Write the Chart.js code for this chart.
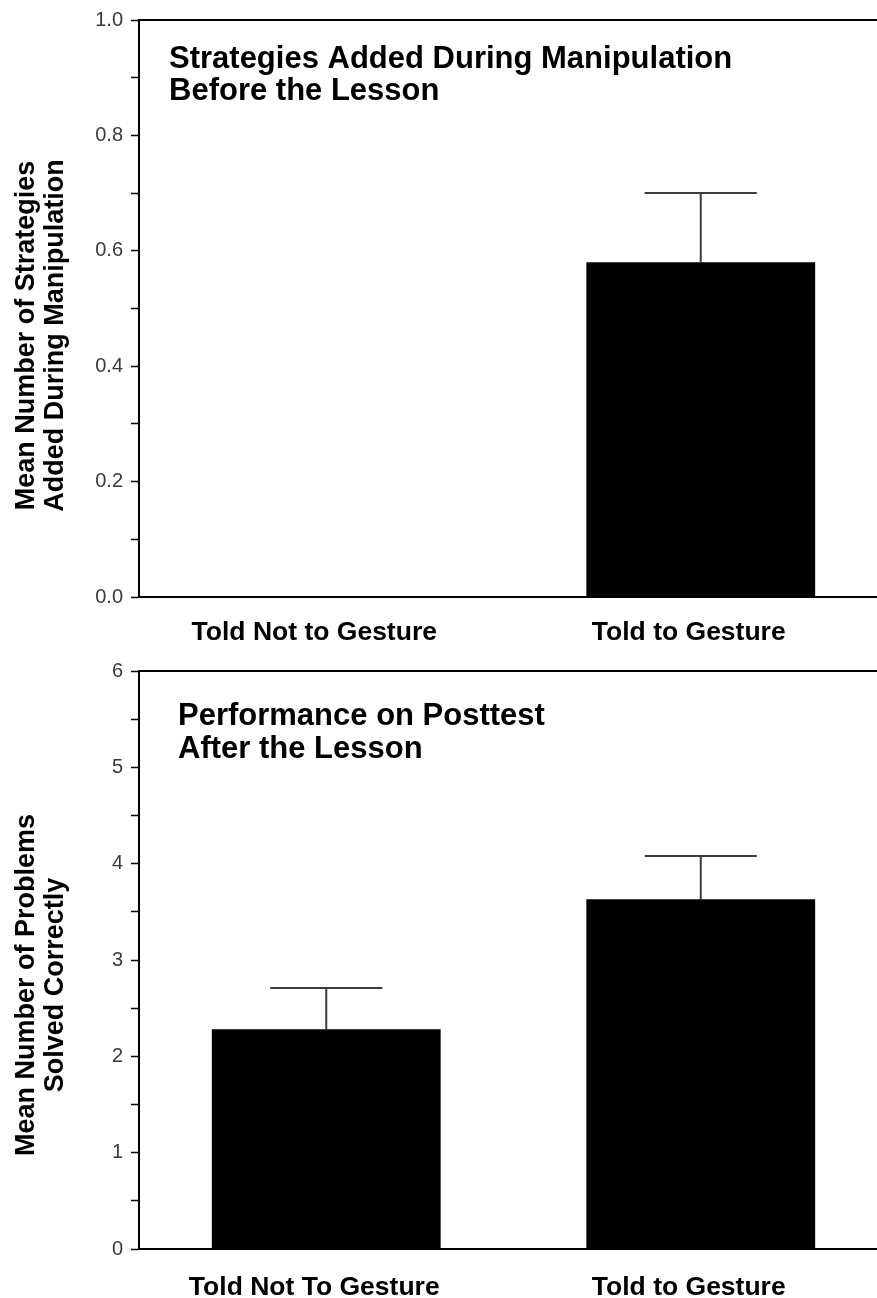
<!DOCTYPE html>
<html>
<head>
<meta charset="utf-8">
<script src="https://cdn.jsdelivr.net/npm/chart.js@4"></script>
<style>
  body { margin: 0; background: #fff; overflow: hidden; }
  .panel { width: 877px; height: 649px; overflow: hidden; }
</style>
</head>
<body>
<div class="panel"><canvas id="topPlot" width="890" height="649"></canvas></div>
<div class="panel"><canvas id="bottomPlot" width="890" height="649"></canvas></div>
<script>
// top panel: strategies added during manipulation
var topCategories = ['Told Not to Gesture', 'Told to Gesture'];
var topMeans = [0, 0.58];
var topErrors = [0, 0.12];
var topTitle = ['Strategies Added During Manipulation', 'Before the Lesson'];
var topAxisTitle = ['Mean Number of Strategies', 'Added During Manipulation'];

// bottom panel: posttest performance
var bottomCategories = ['Told Not To Gesture', 'Told to Gesture'];
var bottomMeans = [2.28, 3.63];
var bottomErrors = [0.43, 0.45];
var bottomTitle = ['Performance on Posttest', 'After the Lesson'];
var bottomAxisTitle = ['Mean Number of Problems', 'Solved Correctly'];

var FONT = "'Liberation Sans', Arial, Helvetica, sans-serif";

// error bars, top frame line, panel heading and rotated y title
var extras = {
    id: 'extras',
    afterDatasetsDraw: function (chart) {
        var opts = chart.options.plugins.extras;
        var ctx = chart.ctx;
        var area = chart.chartArea;
        var ys = chart.scales.y;
        var meta = chart.getDatasetMeta(0);
        var values = chart.data.datasets[0].data;

        ctx.save();
        ctx.strokeStyle = '#3c3c3c';
        ctx.lineWidth = 2;
        meta.data.forEach(function (bar, i) {
            var err = opts.errors[i];
            if (!err) return;
            var yTop = ys.getPixelForValue(values[i] + err);
            var half = bar.width * 0.245;
            ctx.beginPath();
            ctx.moveTo(bar.x, bar.y);
            ctx.lineTo(bar.x, yTop);
            ctx.moveTo(bar.x - half, yTop);
            ctx.lineTo(bar.x + half, yTop);
            ctx.stroke();
        });

        // frame line along the top
        ctx.strokeStyle = '#000';
        ctx.beginPath();
        ctx.moveTo(area.left, area.top);
        ctx.lineTo(chart.width, area.top);
        ctx.stroke();

        // heading inside the plot
        ctx.fillStyle = '#000';
        ctx.font = 'bold 31px ' + FONT;
        ctx.textAlign = 'left';
        ctx.textBaseline = 'alphabetic';
        opts.title.forEach(function (line, i) {
            ctx.fillText(line, area.left + opts.titleX, area.top + opts.titleY + i * opts.titleGap);
        });

        // y axis title, two lines
        ctx.font = 'bold 27px ' + FONT;
        ctx.textAlign = 'center';
        var cy = (area.top + area.bottom) / 2 + opts.axisShift;
        opts.axisTitle.forEach(function (line, i) {
            ctx.save();
            ctx.translate(opts.axisX[i], cy);
            ctx.rotate(-Math.PI / 2);
            ctx.fillText(line, 0, 0);
            ctx.restore();
        });
        ctx.restore();
    }
};

function makeChart(id, categories, means, extraOpts, yOpts, padTop, axisHeight, labelPad) {
    var ctx = document.getElementById(id).getContext('2d');
    return new Chart(ctx, {
        type: 'bar',
        data: {
            labels: categories,
            datasets: [{
                data: means,
                backgroundColor: '#000',
                borderWidth: 0,
                barPercentage: 0.611,
                categoryPercentage: 1.0
            }]
        },
        plugins: [extras],
        options: {
            responsive: false,
            animation: false,
            layout: { padding: { left: 0, right: 2, top: padTop, bottom: 0 } },
            plugins: {
                legend: { display: false },
                tooltip: { enabled: false },
                extras: extraOpts
            },
            scales: {
                x: {
                    grid: { display: false, drawTicks: false },
                    border: { display: true, color: '#000', width: 2 },
                    ticks: {
                        color: '#000',
                        padding: labelPad,
                        labelOffset: -12,
                        maxRotation: 0,
                        font: { family: FONT, size: 26.5, weight: 'bold' }
                    },
                    afterFit: function (scale) { scale.height = axisHeight; }
                },
                y: {
                    min: yOpts.min,
                    max: yOpts.max,
                    grid: {
                        display: true,
                        drawOnChartArea: false,
                        drawTicks: true,
                        tickLength: 8,
                        tickColor: '#000',
                        tickWidth: 1.5
                    },
                    border: { display: true, color: '#000', width: 2 },
                    ticks: {
                        stepSize: yOpts.step,
                        autoSkip: false,
                        padding: 8,
                        color: '#3a3a3a',
                        font: { family: FONT, size: 20 },
                        callback: yOpts.label
                    },
                    afterFit: function (scale) { scale.width = 139; }
                }
            }
        }
    });
}

makeChart('topPlot', topCategories, topMeans,
    { errors: topErrors, title: topTitle, titleX: 30, titleY: 48, titleGap: 32,
      axisTitle: topAxisTitle, axisX: [34, 63], axisShift: 27 },
    { min: 0, max: 1, step: 0.1,
      label: function (value, index) { return index % 2 === 0 ? value.toFixed(1) : ''; } },
    17, 52, 20);

makeChart('bottomPlot', bottomCategories, bottomMeans,
    { errors: bottomErrors, title: bottomTitle, titleX: 39, titleY: 54, titleGap: 33,
      axisTitle: bottomAxisTitle, axisX: [34, 63], axisShift: 25 },
    { min: 0, max: 6, step: 0.5,
      label: function (value, index) { return index % 2 === 0 ? String(value) : ''; } },
    22, 49, 23);
</script>
</body>
</html>
